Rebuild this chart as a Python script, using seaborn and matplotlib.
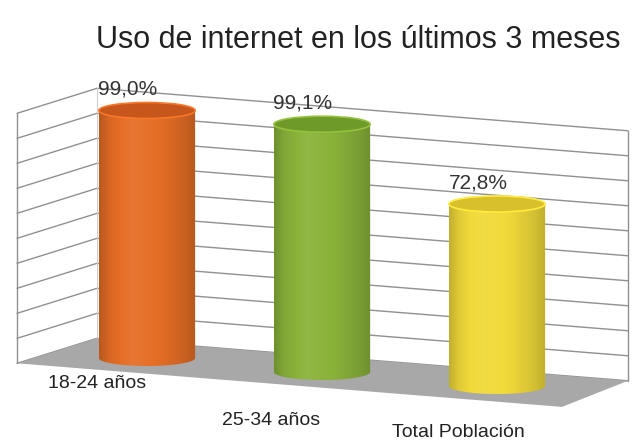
import numpy as np
import pandas as pd
import matplotlib
matplotlib.use("Agg")
import matplotlib.pyplot as plt
import seaborn as sns
from matplotlib.patches import Ellipse, Polygon, PathPatch
from matplotlib.path import Path
import matplotlib.colors as mcolors

# ---------------- data ----------------
categories = ["18-24 años", "25-34 años", "Total Población"]
values = [99.0, 99.1, 72.8]
value_labels = ["99,0%", "99,1%", "72,8%"]
title = "Uso de internet en los últimos 3 meses"
grid_values = list(range(0, 101, 10))

bar_colors = ["#E66E26", "#8AB33A", "#F1DA3A"]
cap_colors = ["#C6561C", "#6E9A2A", "#D8C02C"]

# ---------------- style ----------------
sns.set_theme(style="white")
plt.rcParams['font.family'] = ['Liberation Sans', 'DejaVu Sans']

W, H, DPI = 632, 442, 100
fig = plt.figure(figsize=(W / DPI, H / DPI), dpi=DPI, facecolor="white")
ax = fig.add_axes([0, 0, 1, 1])

df = pd.DataFrame({"cat": categories, "val": values})
sns.barplot(data=df, x="cat", y="val", hue="cat", palette=bar_colors,
            width=0.55, legend=False, ax=ax, saturation=1, zorder=3)

# oblique-projection parameters (layout only)
PX_X0, PX_PER_X = 147, 175          # pixel x of first category, px per category
PX_Y0, PX_PER_Y = 358, 2.5          # pixel y (from top) of baseline at x=0, px per %
XLIM = (-PX_X0 / PX_PER_X, (W - PX_X0) / PX_PER_X)
YLIM = (-(H - PX_Y0) / PX_PER_Y, PX_Y0 / PX_PER_Y)
SLOPE = 5.6      # baseline drop per category (data units)
DX, DY = 0.457, 10.0   # depth offset per unit depth
XL, XR = -0.514, 2.52  # wall extents in bar-plane x


def proj(x, y, d):
    return (x + DX * d, y - SLOPE * x + DY * d)


# walls
side = [proj(XL, 0, -0.5), proj(XL, 100, -0.5), proj(XL, 100, 0.5), proj(XL, 0, 0.5)]
back = [proj(XL, 0, 0.5), proj(XR, 0, 0.5), proj(XR, 100, 0.5), proj(XL, 100, 0.5)]
floor = [proj(XL, 0, -0.5), proj(XR + 0.08, 0, -0.5), proj(XR, 0, 0.5), proj(XL, 0, 0.5)]
ax.add_patch(Polygon(side, closed=True, facecolor="white", edgecolor="none", zorder=0))
ax.add_patch(Polygon(back, closed=True, facecolor="white", edgecolor="none", zorder=0))

gcol = "#909090"
for g in grid_values:
    a, b, c = proj(XL, g, -0.5), proj(XL, g, 0.5), proj(XR, g, 0.5)
    ax.plot([a[0], b[0], c[0]], [a[1], b[1], c[1]], color=gcol, lw=1.0, zorder=1)
for (x, d) in [(XL, -0.5), (XR, 0.5)]:
    a, b = proj(x, 0, d), proj(x, 100, d)
    ax.plot([a[0], b[0]], [a[1], b[1]], color=gcol, lw=1.0, zorder=1)
a, b = proj(XL, 0, 0.5), proj(XL, 100, 0.5)
ax.plot([a[0], b[0]], [a[1], b[1]], color="#d0d0d0", lw=0.8, zorder=1)

ax.add_patch(Polygon(floor, closed=True, facecolor="#a8a8a8", edgecolor="none", zorder=2))

# cylinders built from the seaborn bars
E_H = 6.4  # ellipse height in data units


def shade_img(color, n=200):
    c = np.array(mcolors.to_rgb(color))
    u = np.linspace(0, 1, n)
    s = np.interp(u, [0, 0.1, 0.35, 0.65, 0.9, 1], [0.80, 0.93, 1.06, 0.98, 0.87, 0.80])
    img = np.zeros((2, n, 3))
    for i, sv in enumerate(s):
        if sv >= 1:
            col = c + (1 - c) * (sv - 1)
        else:
            col = c * sv
        img[:, i, :] = np.clip(col, 0, 1)
    return img


bars = [p for p in ax.patches if isinstance(p, matplotlib.patches.Rectangle)][:len(values)]
label_dx = [-10, -11, 1]
label_dy = [13, 36, 34]
for i, p in enumerate(bars):
    w = p.get_width()
    xc = p.get_x() + w / 2
    h = p.get_height()
    base = -SLOPE * xc
    p.set_y(base)
    p.set_zorder(3)
    p.set_edgecolor("none")

    t = np.linspace(np.pi, 2 * np.pi, 60)
    verts = [(xc - w / 2, base + h), (xc - w / 2, base)]
    verts += list(zip(xc + w / 2 * np.cos(t), base + E_H / 2 * np.sin(t)))
    verts += [(xc + w / 2, base + h), (xc - w / 2, base + h)]
    path = Path(verts, closed=True)
    clip = PathPatch(path, transform=ax.transData, facecolor="none", edgecolor="none")
    ax.add_patch(clip)
    im = ax.imshow(shade_img(bar_colors[i]), extent=(xc - w / 2, xc + w / 2, base - E_H, base + h),
                   aspect="auto", origin="lower", interpolation="bilinear", zorder=4)
    im.set_clip_path(clip)

    ax.add_patch(Ellipse((xc, base + h), w, E_H, facecolor=cap_colors[i],
                         edgecolor=mcolors.to_hex(np.clip(np.array(mcolors.to_rgb(bar_colors[i])) * 1.08, 0, 1)),
                         lw=1.2, zorder=5))

    ax.annotate(value_labels[i], xy=(xc, base + h), xytext=(-19, 21),
                textcoords="offset pixels", ha="center", va="center",
                fontsize=15, color="#333333", zorder=6)

    fx, fy = proj(xc, 0, -0.5)
    ax.annotate(categories[i], xy=(fx, fy), xytext=(label_dx[i], -label_dy[i]),
                textcoords="offset pixels", ha="center", va="center",
                fontsize=14, color="#222222", zorder=6)

ax.set_xlim(*XLIM)
ax.set_ylim(*YLIM)
ax.set_axis_off()

fig.text(358 / W, 1 - 40 / H, title, ha="center", va="center", fontsize=22, color="#222222")

fig.savefig("out.png", dpi=DPI, facecolor="white")
